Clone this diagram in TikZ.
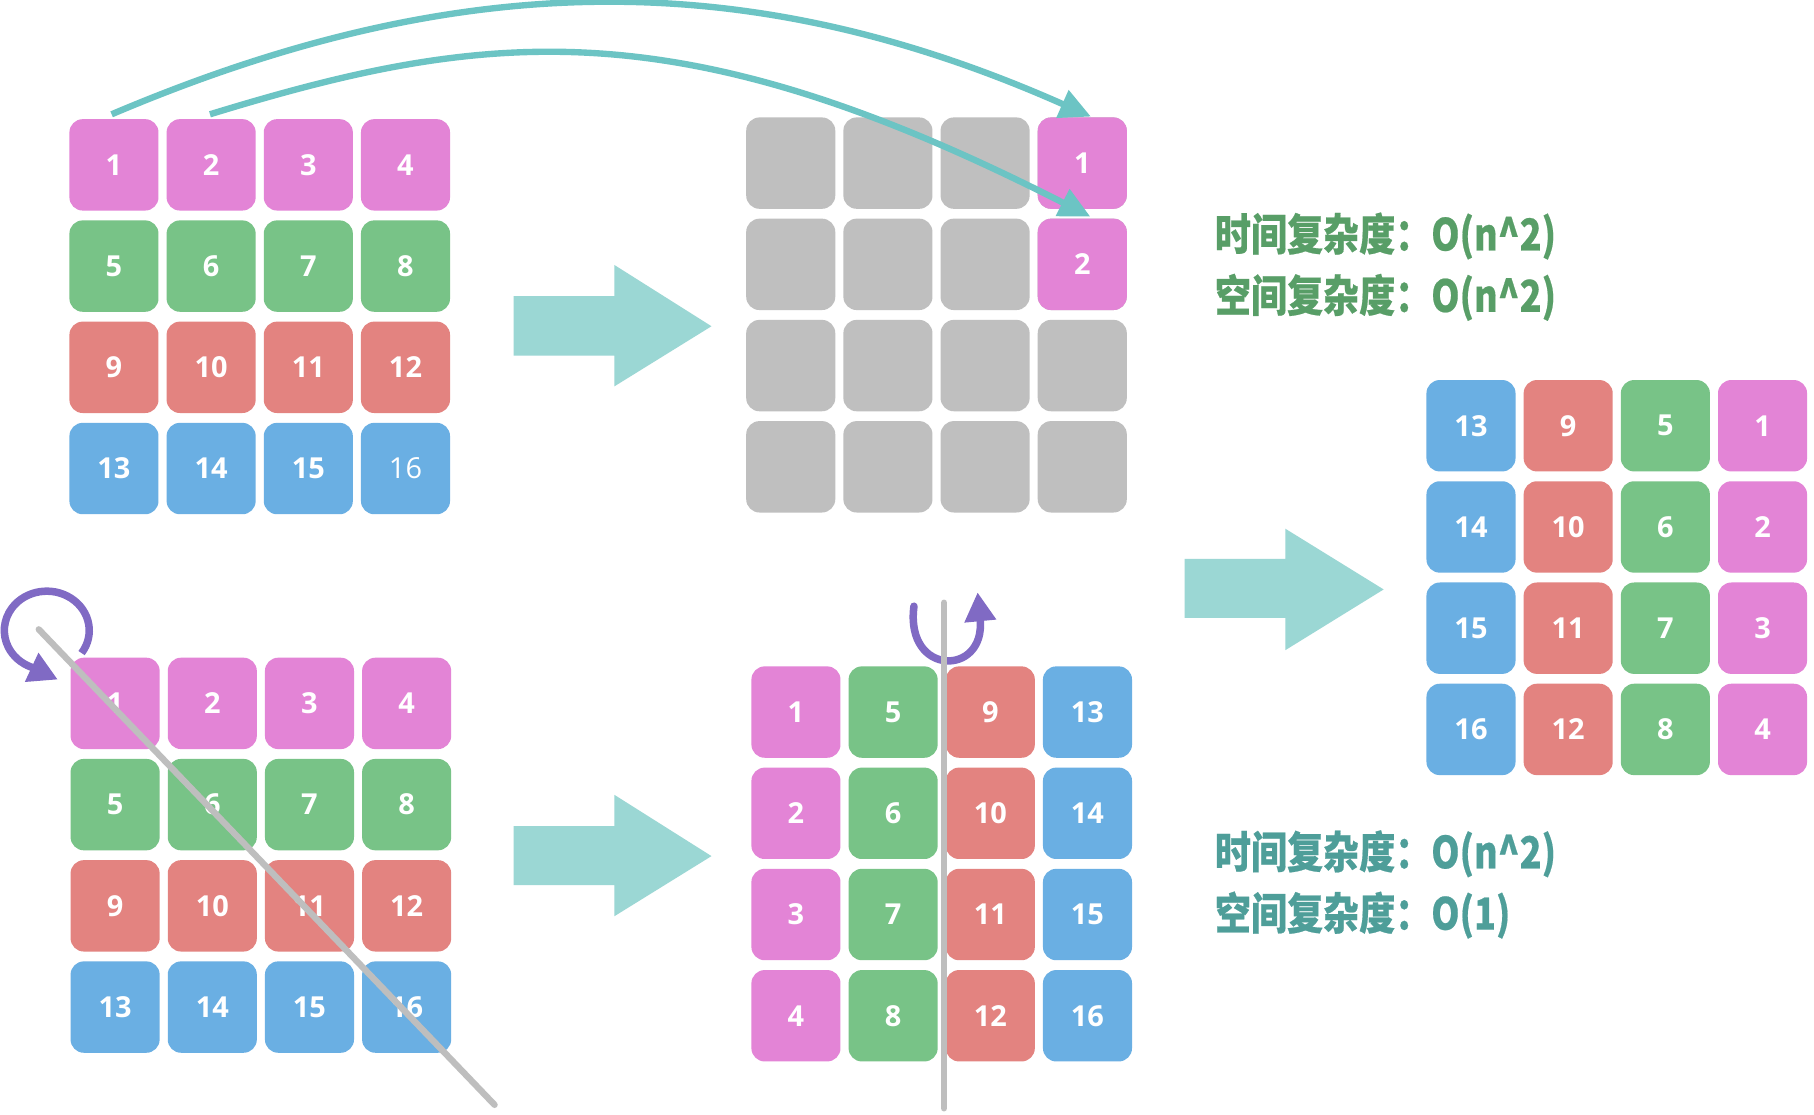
\documentclass[tikz,border=0pt]{standalone}
\usepackage{fontspec}
\usepackage{graphicx}
\usetikzlibrary{arrows.meta}
\setmainfont{Open Sans}
\newfontfamily\cjkfont{Noto Sans CJK SC}[BoldFeatures={FakeBold=0.5}]
\definecolor{cpink}{RGB}{227,132,214}
\definecolor{cgreen}{RGB}{120,195,135}
\definecolor{cred}{RGB}{227,131,128}
\definecolor{cblue}{RGB}{106,175,227}
\definecolor{cgray}{RGB}{191,191,191}
\definecolor{bigarrow}{RGB}{155,215,212}
\definecolor{cteal}{RGB}{108,196,196}
\definecolor{cpurple}{RGB}{128,106,196}
\definecolor{txtgreen}{RGB}{88,158,103}
\definecolor{txtteal}{RGB}{78,158,153}
\definecolor{linegray}{RGB}{190,190,190}
\begin{document}
\begin{tikzpicture}[x=1pt,y=-1pt,
  cell/.style={rounded corners=11.5pt, minimum width=77pt, minimum height=79pt, inner sep=0pt, text=white, font=\fontsize{25}{25}\selectfont\bfseries},
  bigarr/.style={fill=bigarrow, draw=none},
  tealarr/.style={draw=cteal, line width=5.5pt, -{Triangle[length=27pt,width=25pt]}},
  purarr/.style={draw=cpurple, line width=6.5pt, -{Triangle[length=25pt,width=26pt]}},
  axisline/.style={draw=linegray, line width=5.5pt, line cap=round},
  info/.style={anchor=west, inner sep=0pt, font=\cjkfont\bfseries\fontsize{38}{38}\selectfont}
]
\useasboundingbox[fill=white] (0,0) rectangle (1568,963);

% Grid A (top-left)
\foreach \r/\col in {0/cpink,1/cgreen,2/cred,3/cblue}{
  \foreach \c in {0,...,3}{
    \pgfmathtruncatemacro\lab{4*\r+\c+1}
    \ifnum\lab=16
      \node[cell, fill=\col] (A-\r-\c) at (98.5+84*\c, 142.5+87.5*\r) {\mdseries\lab};
    \else
      \node[cell, fill=\col] (A-\r-\c) at (98.5+84*\c, 142.5+87.5*\r) {\lab};
    \fi
  }
}

% Grid B (top-middle)
\foreach \r in {0,...,3}{
  \foreach \c in {0,...,3}{
    \node[cell, fill=cgray] (B-\r-\c) at (683.5+84*\c, 141+87.5*\r) {};
  }
}
\node[cell, fill=cpink] (B1) at (B-0-3) {1};
\node[cell, fill=cpink] (B2) at (B-1-3) {2};

% Grid C (bottom-left)
\foreach \r/\col in {0/cpink,1/cgreen,2/cred,3/cblue}{
  \foreach \c in {0,...,3}{
    \pgfmathtruncatemacro\lab{4*\r+\c+1}
    \node[cell, fill=\col] (C-\r-\c) at (99.5+84*\c, 608+87.5*\r) {\lab};
  }
}

% Grid D (bottom-middle, transposed)
\foreach \c/\col in {0/cpink,1/cgreen,2/cred,3/cblue}{
  \foreach \r in {0,...,3}{
    \pgfmathtruncatemacro\lab{4*\c+\r+1}
    \node[cell, fill=\col] (D-\r-\c) at (688+84*\c, 615.5+87.5*\r) {\lab};
  }
}

% Grid E (right, rotated)
\foreach \c/\col in {0/cblue,1/cred,2/cgreen,3/cpink}{
  \foreach \r in {0,...,3}{
    \pgfmathtruncatemacro\lab{4*(3-\c)+\r+1}
    \node[cell, fill=\col] (E-\r-\c) at (1271.5+84*\c, 368+87.5*\r) {\lab};
  }
}

% big arrows
\fill[bigarr] (444,256) -- (531,256) -- (531,229) -- (615,282) -- (531,334) -- (531,307.5) -- (444,307.5) -- cycle;
\fill[bigarr] (444,714) -- (531,714) -- (531,687) -- (615,740) -- (531,792) -- (531,765) -- (444,765) -- cycle;
\fill[bigarr] (1024,483) -- (1111,483) -- (1111,457) -- (1196,509.5) -- (1111,562) -- (1111,534) -- (1024,534) -- cycle;

% teal curved arrows
\draw[tealarr] ([xshift=-2pt,yshift=4pt]A-0-0.north) .. controls (395,-28) and (646,-31) .. ([xshift=7.5pt,yshift=0.5pt]B1.north);
\draw[tealarr] ([xshift=-1pt,yshift=4pt]A-0-1.north) .. controls (420.5,25.5) and (586.6,5.7) .. ([xshift=7pt,yshift=1.5pt]B2.north);

% purple rotation marks
\draw[purarr] (70.5,564.5) arc[start angle=35, end angle=-248, x radius=36.7, y radius=34] -- (50,587.4);
\draw[purarr, line cap=round] (790,524) .. controls (782,585) and (852,585) .. (845,512);

% symmetry axes
\coordinate (diagS) at (33.5,544);
\coordinate (diagE) at (427.5,955);
\coordinate (vertS) at (816,521);
\coordinate (vertE) at (816,958);
\draw[axisline] (diagS) -- (diagE);
\draw[axisline] (vertS) -- (vertE);

% complexity texts
\node[info, text=txtgreen] (t1) at (1050,204) {\scalebox{0.82}[1]{时间复杂度：O(n\textasciicircum 2)}};
\node[info, text=txtgreen] (t2) at (1050,257) {\scalebox{0.82}[1]{空间复杂度：O(n\textasciicircum 2)}};
\node[info, text=txtteal] (t3) at (1050,738) {\scalebox{0.82}[1]{时间复杂度：O(n\textasciicircum 2)}};
\node[info, text=txtteal] (t4) at (1050,791) {\scalebox{0.82}[1]{空间复杂度：O(1)}};
\end{tikzpicture}
\end{document}
